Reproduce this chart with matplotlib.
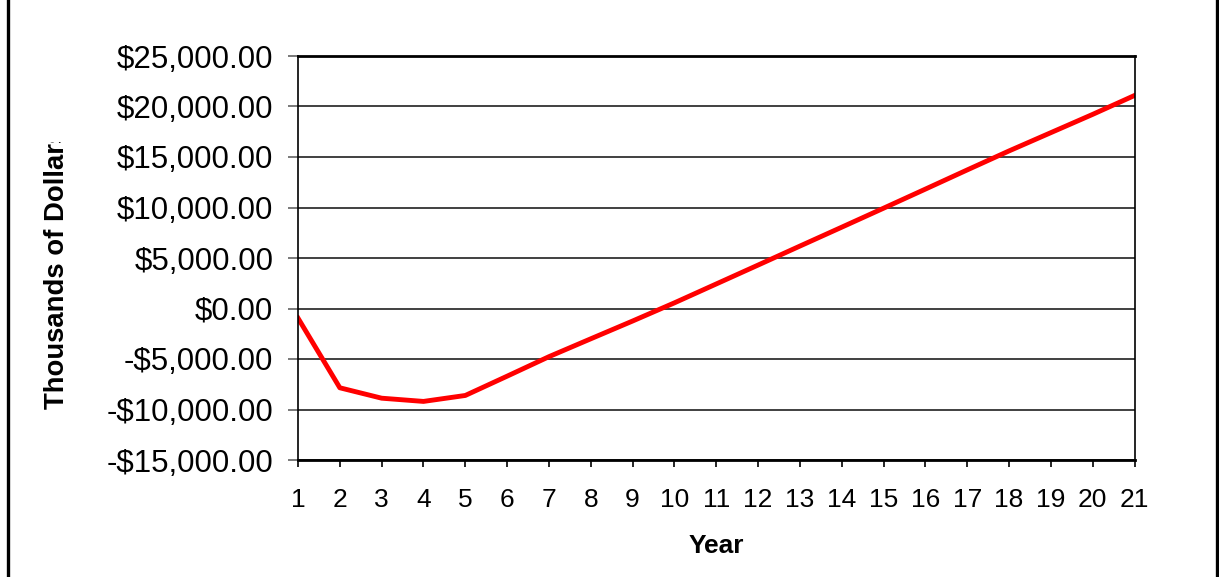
import matplotlib
matplotlib.use("Agg")
import matplotlib.pyplot as plt
from matplotlib.lines import Line2D
from matplotlib.ticker import FuncFormatter, MultipleLocator
from matplotlib.transforms import Bbox, TransformedBbox

# cumulative value per year (thousands of dollars)
years = list(range(1, 22))
values = [-950, -7850, -8880, -9200, -8610, -6700, -4770, -3000, -1240, 560,
          2430, 4300, 6180, 8050, 9930, 11820, 13720, 15600, 17410, 19220, 21090]

y_min, y_max, y_step = -15000, 25000, 5000

W, H = 1219, 577
plt.rcParams["font.family"] = ["Liberation Sans", "DejaVu Sans"]

fig = plt.figure(figsize=(W / 100, H / 100), dpi=100)
ax = fig.add_axes([298 / W, 1 - 460 / H, (1134.5 - 298) / W, (460 - 56) / H])

ax.plot(years, values, color="#ff0000", lw=3.5, solid_joinstyle="round")

ax.set_xlim(1, 21)
ax.set_ylim(y_min, y_max)
ax.set_xticks(years)
ax.yaxis.set_major_locator(MultipleLocator(y_step))


def money(v, _pos):
    s = f"${abs(v):,.2f}"
    return "-" + s if v < 0 else s


ax.yaxis.set_major_formatter(FuncFormatter(money))
ax.grid(axis="y", color="#202020", lw=1.2)
ax.set_axisbelow(True)
for side in ["left", "right", "top", "bottom"]:
    ax.spines[side].set_color("black")
    ax.spines[side].set_linewidth(1.2)
ax.spines["top"].set_linewidth(2)
ax.spines["bottom"].set_linewidth(2)

ax.tick_params(axis="y", labelsize=22.5, length=7.2, width=1.1, pad=10.5, color="#555555")
ax.tick_params(axis="x", labelsize=19, length=5.3, width=1.2, pad=15, color="black")

fig.text(716 / W, 1 - 553 / H, "Year", ha="center", va="baseline",
         fontsize=19, fontweight="bold")
ylab = fig.text(57 / W, 1 - 268 / H, "Thousands of Dollars", rotation=90,
                ha="center", va="center", fontsize=19.8, fontweight="bold")
# the label runs past the chart area in the original and is cut off at the top
ylab.set_clip_box(TransformedBbox(Bbox.from_extents(0, 0, 1, 1 - 141.5 / H), fig.transFigure))
ylab.set_clip_on(True)

# chart-area border (only the side edges fall inside the picture)
for x in [7.5 / W, 1217 / W]:
    fig.add_artist(Line2D([x, x], [0, 1], transform=fig.transFigure, color="black", lw=2.4))

fig.savefig("out.png", dpi=100)
